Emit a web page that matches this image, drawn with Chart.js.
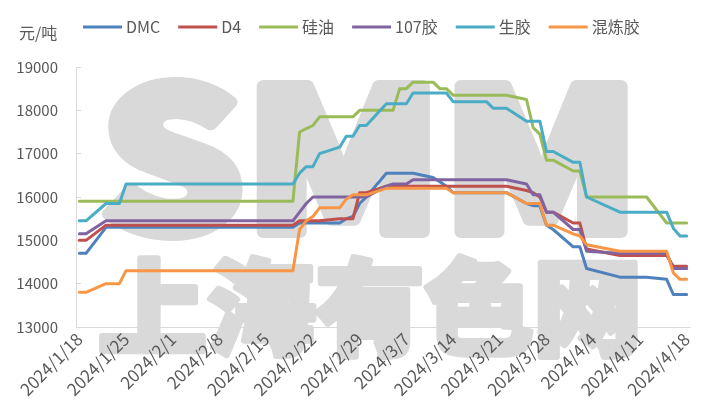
<!DOCTYPE html>
<html lang="zh">
<head>
<meta charset="utf-8">
<script src="https://cdn.jsdelivr.net/npm/chart.js@4.4.1/dist/chart.umd.min.js"></script>
<style>
  html, body { margin: 0; padding: 0; background: #ffffff; }
  #wrap { width: 710px; height: 413px; }
</style>
</head>
<body>
<div id="wrap"><canvas id="chart" width="710" height="413"></canvas></div>
<script>
// Trading days shown in the chart (holidays skipped).
const dates = [
  '2024/1/18', '2024/1/19', '2024/1/22', '2024/1/23', '2024/1/24', '2024/1/25', '2024/1/26', '2024/1/29', '2024/1/30', '2024/1/31',
  '2024/2/1', '2024/2/2', '2024/2/5', '2024/2/6', '2024/2/7', '2024/2/8',
  '2024/2/19', '2024/2/20', '2024/2/21', '2024/2/22', '2024/2/23', '2024/2/26', '2024/2/27', '2024/2/28', '2024/2/29',
  '2024/3/1', '2024/3/4', '2024/3/5', '2024/3/6', '2024/3/7', '2024/3/8', '2024/3/11', '2024/3/12', '2024/3/13', '2024/3/14',
  '2024/3/15', '2024/3/18', '2024/3/19', '2024/3/20', '2024/3/21', '2024/3/22', '2024/3/25', '2024/3/26', '2024/3/27', '2024/3/28', '2024/3/29',
  '2024/4/1', '2024/4/2', '2024/4/3', '2024/4/8', '2024/4/9', '2024/4/10', '2024/4/11', '2024/4/12', '2024/4/15', '2024/4/16', '2024/4/17', '2024/4/18'
];

const tickLabels = [
  '2024/1/18', '2024/1/25', '2024/2/1', '2024/2/8', '2024/2/15', '2024/2/22', '2024/2/29',
  '2024/3/7', '2024/3/14', '2024/3/21', '2024/3/28', '2024/4/4', '2024/4/11', '2024/4/18'
];

const seriesNames = ['DMC', 'D4', '硅油', '107胶', '生胶', '混炼胶'];

const dmc = [
  14700, 14700, 15300, 15300, 15300, 15300, 15300, 15300, 15300, 15300,
  15300, 15300, 15300, 15300, 15300, 15300, 15300, 15400, 15400, 15400,
  15400, 15400, 15500, 15550, 15850, 16000, 16550, 16550, 16550, 16550,
  16550, 16450, 16350, 16250, 16100, 16100, 16100, 16100, 16100, 16100,
  16100, 15850, 15800, 15800, 15350, 15250, 14850, 14850, 14350, 14150,
  14150, 14150, 14150, 14150, 14100, 13750, 13750, 13750
];

const d4 = [
  15000, 15000, 15350, 15350, 15350, 15350, 15350, 15350, 15350, 15350,
  15350, 15350, 15350, 15350, 15350, 15350, 15350, 15450, 15450, 15450,
  15450, 15500, 15500, 15500, 16100, 16100, 16250, 16250, 16250, 16250,
  16250, 16250, 16250, 16250, 16250, 16250, 16250, 16250, 16250, 16250,
  16250, 16150, 16100, 16000, 15650, 15650, 15400, 15400, 14800, 14650,
  14650, 14650, 14650, 14650, 14650, 14400, 14400, 14400
];

const siliconeOil = [
  15900, 15900, 15900, 15900, 15900, 15900, 15900, 15900, 15900, 15900,
  15900, 15900, 15900, 15900, 15900, 15900, 15900, 17500, 17580, 17650,
  17850, 17850, 17850, 17850, 18000, 18000, 18000, 18000, 18500, 18500,
  18650, 18650, 18500, 18500, 18350, 18350, 18350, 18350, 18350, 18350,
  18350, 18250, 17600, 17450, 16850, 16850, 16600, 16600, 16000, 16000,
  16000, 16000, 16000, 16000, 15400, 15400, 15400, 15400
];

const rubber107 = [
  15150, 15150, 15450, 15450, 15450, 15450, 15450, 15450, 15450, 15450,
  15450, 15450, 15450, 15450, 15450, 15450, 15450, 15650, 15850, 16000,
  16000, 16000, 16000, 16000, 16000, 16000, 16250, 16300, 16300, 16300,
  16400, 16400, 16400, 16400, 16400, 16400, 16400, 16400, 16400, 16400,
  16400, 16300, 16050, 16050, 15650, 15650, 15250, 15250, 14750, 14700,
  14700, 14700, 14700, 14700, 14700, 14350, 14350, 14350
];

const rawRubber = [
  15450, 15450, 15850, 15850, 15850, 16300, 16300, 16300, 16300, 16300,
  16300, 16300, 16300, 16300, 16300, 16300, 16300, 16550, 16700, 16700,
  17000, 17150, 17400, 17400, 17650, 17650, 18150, 18150, 18150, 18150,
  18400, 18400, 18400, 18400, 18200, 18200, 18200, 18200, 18050, 18050,
  18050, 17750, 17750, 17750, 17050, 17050, 16800, 16800, 16000, 15650,
  15650, 15650, 15650, 15650, 15650, 15280, 15100, 15100
];

const mixedRubber = [
  13800, 13800, 14000, 14000, 14000, 14300, 14300, 14300, 14300, 14300,
  14300, 14300, 14300, 14300, 14300, 14300, 14300, 15250, 15450, 15550,
  15750, 15750, 15950, 16050, 16050, 16050, 16200, 16200, 16200, 16200,
  16200, 16200, 16200, 16200, 16100, 16100, 16100, 16100, 16100, 16100,
  16100, 15850, 15850, 15850, 15350, 15350, 15150, 15100, 14900, 14750,
  14750, 14750, 14750, 14750, 14750, 14250, 14100, 14100
];

const seriesValues = [dmc, d4, siliconeOil, rubber107, rawRubber, mixedRubber];
const seriesColors = ['#4f81bd', '#c0504d', '#9bbb59', '#8064a2', '#4bacc6', '#f79646'];

const FONT = '"Noto Sans CJK SC", "Noto Sans", sans-serif';
const TEXT = '#595959';
const AXIS = '#d9d9d9';

// days since the first date, so the x axis is a real calendar axis
function dayOffset(label) {
  const p = label.split('/').map(Number);
  const start = Date.UTC(2024, 0, 18);
  return (Date.UTC(p[0], p[1] - 1, p[2]) - start) / 86400000;
}

// grey SMM / 上海有色网 watermark behind the plot
function drawMark(c, text, font, x, y, width, baseline, thick) {
  c.save();
  c.fillStyle = '#d9d9d9';
  c.strokeStyle = '#d9d9d9';
  c.lineJoin = 'round';
  c.textBaseline = baseline;
  c.font = font;
  const w = c.measureText(text).width;
  c.translate(x, y);
  c.scale(width / w, 1);
  c.lineWidth = thick;
  c.strokeText(text, 0, 0);
  c.fillText(text, 0, 0);
  c.restore();
}

const watermark = {
  id: 'watermark',
  beforeDraw(chart) {
    const c = chart.ctx;
    drawMark(c, 'SMM', '900 196px ' + FONT, 100, 232, 540, 'alphabetic', 12);
    drawMark(c, '上海有色网', '900 104px ' + FONT, 98, 307, 544, 'middle', 6);
  }
};

// legend row with the unit label in front
const topLegend = {
  id: 'topLegend',
  afterDraw(chart) {
    const c = chart.ctx;
    c.save();
    c.font = '16px ' + FONT;
    c.fillStyle = TEXT;
    c.textBaseline = 'middle';
    c.fillText('元/吨', 19, 33);
    let x = 83;
    chart.data.datasets.forEach((ds) => {
      c.strokeStyle = ds.borderColor;
      c.lineWidth = 3;
      c.beginPath();
      c.moveTo(x, 27);
      c.lineTo(x + 39, 27);
      c.stroke();
      x += 43;
      c.fillStyle = TEXT;
      c.fillText(ds.label, x, 27);
      x += c.measureText(ds.label).width + 18;
    });
    c.restore();
  }
};

new Chart(document.getElementById('chart'), {
  type: 'line',
  data: {
    datasets: seriesNames.map((name, i) => ({
      label: name,
      data: dates.map((d, j) => ({ x: dayOffset(d), y: seriesValues[i][j] })),
      borderColor: seriesColors[i],
      backgroundColor: seriesColors[i],
      borderWidth: 3,
      pointRadius: 0,
      tension: 0,
      borderJoinStyle: 'round',
      borderCapStyle: 'round',
      // later series sit on top, like the original
      order: seriesNames.length - i
    }))
  },
  options: {
    responsive: false,
    animation: false,
    layout: { padding: { top: 67, right: 20, left: 0, bottom: 0 } },
    plugins: {
      legend: { display: false },
      tooltip: { enabled: false }
    },
    scales: {
      x: {
        type: 'linear',
        min: -0.5,
        max: 91.5,
        afterBuildTicks: (scale) => {
          scale.ticks = tickLabels.map((t) => ({ value: dayOffset(t) }));
        },
        afterFit: (scale) => { scale.height = 86; },
        ticks: {
          autoSkip: false,
          minRotation: 45,
          maxRotation: 45,
          padding: 2,
          color: TEXT,
          font: { family: FONT, size: 17 },
          callback: (value, index) => tickLabels[index]
        },
        grid: { drawOnChartArea: false, drawTicks: false },
        border: { color: AXIS, width: 1 }
      },
      y: {
        min: 13000,
        max: 19000,
        afterFit: (scale) => { scale.width = 76; },
        ticks: {
          stepSize: 1000,
          padding: 23,
          color: TEXT,
          font: { family: FONT, size: 15 },
          callback: (value) => String(value)
        },
        grid: { drawOnChartArea: false, drawTicks: true, tickLength: -5, color: AXIS },
        border: { color: AXIS, width: 1 }
      }
    }
  },
  plugins: [watermark, topLegend]
});
</script>
</body>
</html>
